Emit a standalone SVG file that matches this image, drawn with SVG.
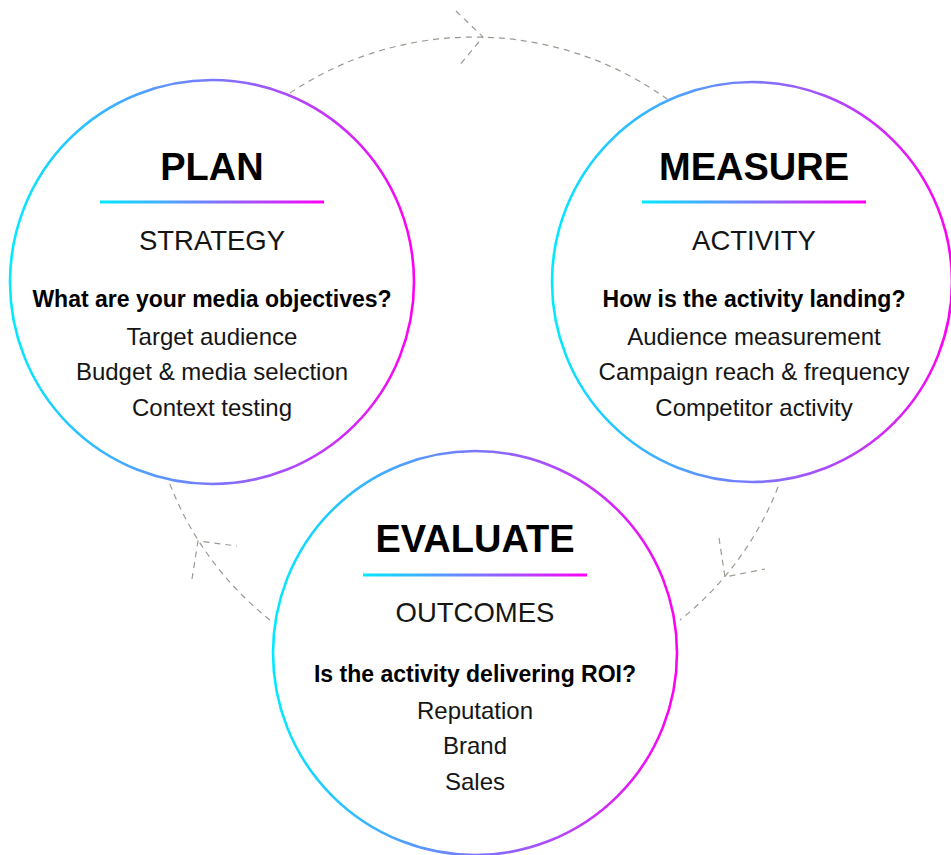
<svg xmlns="http://www.w3.org/2000/svg" width="951" height="855" viewBox="0 0 951 855">
<defs>
<linearGradient id="g" x1="0" y1="0" x2="1" y2="0">
<stop offset="0" stop-color="#00eaff"/>
<stop offset="0.5" stop-color="#7a78ff"/>
<stop offset="1" stop-color="#ff00f5"/>
</linearGradient>
<style>
.ring{fill:#fff;stroke:url(#g);stroke-width:2.6}
.bar{fill:url(#g)}
.dash{fill:none;stroke:#9a9a92;stroke-width:1.2;stroke-dasharray:6 5}
text{font-family:"Liberation Sans",Arial,sans-serif;text-anchor:middle;fill:#151515}
.t{font-size:38px;font-weight:bold;fill:#000}
.s{font-size:27.5px}
.q{font-size:23px;font-weight:bold;fill:#000}
.b{font-size:24px}
</style>
</defs>
<rect width="951" height="855" fill="#fff"/>
<g id="connectors">
<path class="dash" d="M290,93 A331,331 0 0 1 667,99"/>
<path class="dash" d="M456,11 L483,37 L458,67"/>
<path class="dash" d="M778,487 A315,315 0 0 1 680,620"/>
<path class="dash" d="M719,538 L725,577 L765,569"/>
<path class="dash" d="M270,620 A321,321 0 0 1 168,479"/>
<path class="dash" d="M192,579 L198,541 L237,546"/>
</g>
<g id="plan">
<circle class="ring" cx="212" cy="282" r="202"/>
<text class="t" x="212" y="180">PLAN</text>
<rect class="bar" x="100" y="200.5" width="224" height="3"/>
<text class="s" x="212" y="250">STRATEGY</text>
<text class="q" x="212" y="307">What are your media objectives?</text>
<text class="b" x="212" y="345">Target audience</text>
<text class="b" x="212" y="380">Budget &amp; media selection</text>
<text class="b" x="212" y="416">Context testing</text>
</g>
<g id="measure">
<circle class="ring" cx="752" cy="282" r="200"/>
<text class="t" x="754" y="180">MEASURE</text>
<rect class="bar" x="642" y="200.5" width="224" height="3"/>
<text class="s" x="754" y="250">ACTIVITY</text>
<text class="q" x="754" y="307">How is the activity landing?</text>
<text class="b" x="754" y="345">Audience measurement</text>
<text class="b" x="754" y="380">Campaign reach &amp; frequency</text>
<text class="b" x="754" y="416">Competitor activity</text>
</g>
<g id="evaluate">
<circle class="ring" cx="475" cy="653" r="202"/>
<text class="t" x="475" y="552">EVALUATE</text>
<rect class="bar" x="363" y="573.5" width="224" height="3"/>
<text class="s" x="475" y="622">OUTCOMES</text>
<text class="q" x="475" y="682">Is the activity delivering ROI?</text>
<text class="b" x="475" y="719">Reputation</text>
<text class="b" x="475" y="754">Brand</text>
<text class="b" x="475" y="790">Sales</text>
</g>
</svg>
